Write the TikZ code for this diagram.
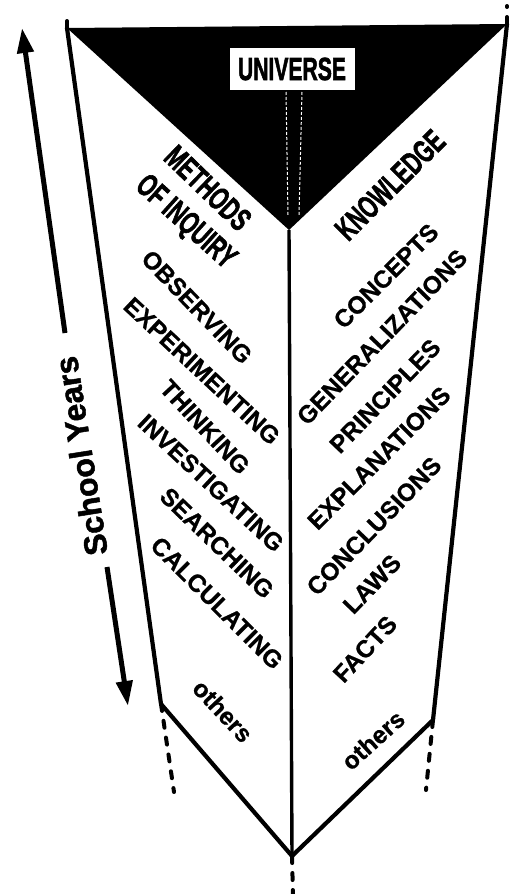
\documentclass[tikz,border=0pt]{standalone}
\usepackage{fontspec}
\setmainfont{Liberation Sans}
\newfontfamily\heavyfont[FakeBold=2.2]{Liberation Sans Bold}
\newfontfamily\midfont[FakeBold=0.8]{Liberation Sans Bold}
\newfontfamily\syfont[FakeBold=1.5]{Liberation Sans Bold}
\usetikzlibrary{arrows.meta}
\begin{document}
\begin{tikzpicture}[x=1pt,y=-1pt,
  outline/.style={line width=4.2pt,line join=round,line cap=round},
  ext/.style={line width=4pt,dash pattern=on 7pt off 10pt,line cap=round},
  lbl/.style={inner sep=0pt,font=\fontsize{24.5}{24.5}\midfont},
  head/.style={inner sep=0pt,font=\fontsize{32}{32}\heavyfont},
  yr/.style={line width=5pt,-{Triangle[length=25pt,width=16pt]}}]
\useasboundingbox (0,0) rectangle (515,894);
% corners
\coordinate (TL) at (67,28);
\coordinate (TR) at (507,24);
\coordinate (V) at (289,230);
\coordinate (BL) at (161,704);
\coordinate (BR) at (433,720);
\coordinate (B) at (292,856);
% extensions
\coordinate (TLx) at (67,15);
\coordinate (TRx) at (507,6);
\coordinate (BLx) at (174,792);
\coordinate (BRx) at (426,790);
\coordinate (Bx) at (293,896);
% black triangle
\fill[black] (TL) -- (TR) -- (V) -- cycle;
% white dashed band
\coordinate (b1t) at (286,92); \coordinate (b1b) at (288,215);
\coordinate (b2t) at (302,92); \coordinate (b2b) at (299,215);
\draw[white,line width=1pt,dash pattern=on 3pt off 2pt] (b1t) -- (b1b);
\draw[white,line width=1pt,dash pattern=on 3pt off 2pt] (b2t) -- (b2b);
% outline
\draw[outline] (TL) -- (BL) -- (B) -- (BR) -- (TR);
\draw[line width=3.4pt] (V) -- (B);
% dashed extensions
\draw[ext] (TL) -- (TLx);
\draw[ext] (TR) -- (TRx);
\draw[ext] (BL) -- (BLx);
\draw[ext] (BR) -- (BRx);
\draw[ext] (B) -- (Bx);
% universe
\node[head,fill=white,minimum width=125pt,minimum height=42pt] (uni) at (292,69) {\scalebox{0.66}[1]{UNIVERSE}};
% headings
\node[head,rotate=-44] (meth) at (208,188) {\scalebox{0.66}[1]{METHODS}};
\node[head,rotate=-42] (inq) at (185,223) {\scalebox{0.66}[1]{OF INQUIRY}};
\node[head,rotate=45] (know) at (390,185) {\scalebox{0.66}[1]{KNOWLEDGE}};
% methods
\node[lbl,rotate=-46] (obs) at (197,307) {OBSERVING};
\node[lbl,rotate=-43] (exp) at (202,371) {EXPERIMENTING};
\node[lbl,rotate=-47] (thi) at (205,427) {THINKING};
\node[lbl,rotate=-43] (inv) at (211,483) {INVESTIGATING};
\node[lbl,rotate=-44] (sea) at (217,543) {SEARCHING};
\node[lbl,rotate=-45] (cal) at (217,603) {CALCULATING};
\node[lbl,rotate=-47] (othL) at (223,711) {others};
% knowledge
\node[lbl,rotate=45] (con) at (386,276) {CONCEPTS};
\node[lbl,rotate=46] (gen) at (382,337) {GENERALIZATIONS};
\node[lbl,rotate=46] (pri) at (385,396) {PRINCIPLES};
\node[lbl,rotate=45] (expl) at (379,458) {EXPLANATIONS};
\node[lbl,rotate=46] (conc) at (374,526) {CONCLUSIONS};
\node[lbl,rotate=46] (laws) at (372,584) {LAWS};
\node[lbl,rotate=47] (fac) at (365,649) {FACTS};
\node[lbl,rotate=42] (othR) at (373,740) {others};
% school years
\coordinate (up0) at (65,333);
\coordinate (up1) at (22,28);
\coordinate (dn0) at (107,567);
\coordinate (dn1) at (128,706);
\draw[yr] (up0) -- (up1);
\draw[yr] (dn0) -- (dn1);
\node[inner sep=0pt,font=\fontsize{32}{32}\syfont,rotate=99] (sy) at (81,456) {School Years};
\end{tikzpicture}
\end{document}
